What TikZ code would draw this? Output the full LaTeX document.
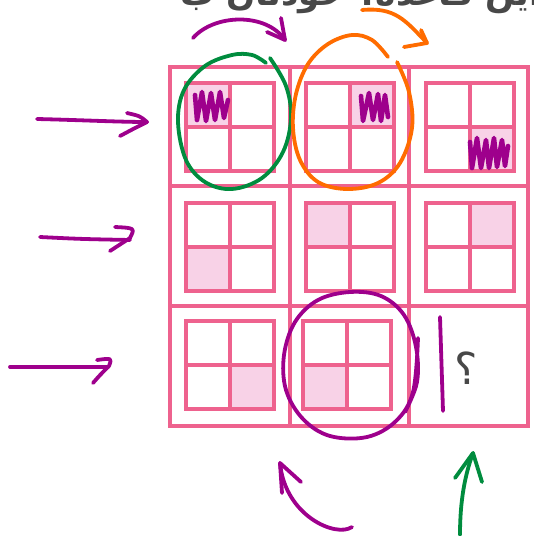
\documentclass[tikz,border=0pt]{standalone}
\usepackage{fontspec}
\newfontfamily\arabicfont[Script=Arabic]{DejaVu Sans}
\TeXXeTstate=1
\definecolor{gridpink}{RGB}{238,98,142}
\definecolor{shadepink}{RGB}{248,210,231}
\definecolor{penpurple}{RGB}{158,0,140}
\definecolor{pengreen}{RGB}{0,140,62}
\definecolor{penorange}{RGB}{255,108,0}
\definecolor{inkgrey}{RGB}{72,72,72}

% 2x2 mini grid centred at (#1,#2); shaded quadrant offset (#3,#4)
\newcommand\minigrid[4]{%
  \fill[shadepink] ({#1+(#3)},{#2+(#4)}) rectangle ++(44,44);
  \draw[innergrid] ({#1-44},{#2-44}) rectangle ({#1+44},{#2+44});
  \draw[innergrid] (#1,{#2-44}) -- (#1,{#2+44}) ({#1-44},#2) -- ({#1+44},#2);
}

\begin{document}
\begin{tikzpicture}[x=1pt,y=-1pt,
  outergrid/.style={draw=gridpink,line width=3.6pt},
  innergrid/.style={draw=gridpink,line width=3.4pt},
  pen/.style={line width=3.8pt,line cap=round,line join=round},
  scribble/.style={pen,draw=penpurple,line width=4.6pt}]
\useasboundingbox (0,0) rectangle (534,536);
\clip (0,0) rectangle (534,536);

% heading, cut off at the top edge
\node[anchor=base east,inner sep=0pt,text=inkgrey,font=\arabicfont\bfseries\fontsize{34}{36}\selectfont]
  (heading) at (541,5) {\beginR این قاعده؟ خودتان ب\endR};

% outer 3x3 frame
\draw[outergrid] (170,67) rectangle (528,426);
\draw[outergrid] (290,67) -- (290,426) (409,67) -- (409,426)
                 (170,186) -- (528,186) (170,306) -- (528,306);

% mini grids
\minigrid{230}{127}{-44}{-44}
\minigrid{350}{127}{0}{-44}
\minigrid{470}{127}{0}{0}
\minigrid{230}{247}{-44}{0}
\minigrid{350}{247}{-44}{-44}
\minigrid{470}{247}{0}{-44}
\minigrid{230}{365}{0}{0}
\minigrid{347}{365}{-44}{0}

% unknown cell
\node[text=inkgrey,font=\arabicfont\fontsize{44}{46}\selectfont,inner sep=0pt]
  (qmark) at (466,368) {؟};

% pen scribbles over the marked quadrants
\draw[scribble] (195,95) -- (197,120) -- (202,92) -- (206,121) -- (211,93) -- (215,120)
  -- (220,92) -- (224,118) -- (228,100);
\draw[scribble] (361,96) -- (363,121) -- (369,93) -- (373,120) -- (378,94) -- (381,121)
  -- (385,95) -- (388,117);
\draw[scribble] (470,142) -- (472,168) -- (477,138) -- (481,168) -- (486,140) -- (489,168)
  -- (494,138) -- (497,167) -- (502,140) -- (505,166) -- (508,146);

% pen loops
\draw[pen,draw=pengreen] plot[smooth,tension=0.6] coordinates {
  (266,63) (252,55) (232,55) (205,66) (184,90) (178,122) (186,160) (205,182) (232,189)
  (262,178) (283,152) (291,118) (286,86) (270,58)};
\draw[pen,draw=penorange] plot[smooth,tension=0.6] coordinates {
  (388,57) (372,40) (352,35) (328,44) (308,64) (296,94) (293,128) (300,160) (318,182)
  (347,189) (378,183) (400,163) (412,128) (409,92) (397,62)};
\draw[pen,draw=penpurple] plot[smooth,tension=0.6] coordinates {
  (418,338) (413,392) (396,421) (367,437) (330,436) (303,419) (286,390) (284,355)
  (295,322) (318,300) (350,292) (381,296) (404,315) (416,347) (417,382) (405,412)};
\draw[pen,draw=penpurple] (440,317) -- (443,411);

% pen arrows
\draw[pen,draw=penpurple] (193,38) .. controls (214,14) and (266,12) .. (285,40);
\draw[pen,draw=penpurple] (267,32) -- (285,40) -- (281,18);
\draw[pen,draw=penorange] (362,10) .. controls (395,7) and (405,20) .. (427,43);
\draw[pen,draw=penorange] (404,47) -- (427,43) -- (421,30);

\draw[pen,draw=penpurple] (37,119) .. controls (80,120) and (120,122) .. (147,122);
\draw[pen,draw=penpurple] (127,113) .. controls (140,116) .. (147,122) .. controls (135,128) .. (120,136);
\draw[pen,draw=penpurple] (40,237) .. controls (80,239) .. (130,240);
\draw[pen,draw=penpurple] (115,227) .. controls (135,228) .. (130,238) .. controls (120,245) .. (110,251);
\draw[pen,draw=penpurple] (10,367) -- (108,367);
\draw[pen,draw=penpurple] (97,360) .. controls (112,358) .. (109,366) .. controls (100,375) .. (93,383);

\draw[pen,draw=penpurple] (352,527) .. controls (336,538) and (285,516) .. (280,463);
\draw[pen,draw=penpurple] (282,493) -- (280,463) -- (301,482);
\draw[pen,draw=pengreen] (460,535) .. controls (460,500) and (465,475) .. (473,453);
\draw[pen,draw=pengreen] (455,478) -- (473,453) -- (482,482);
\end{tikzpicture}
\end{document}
